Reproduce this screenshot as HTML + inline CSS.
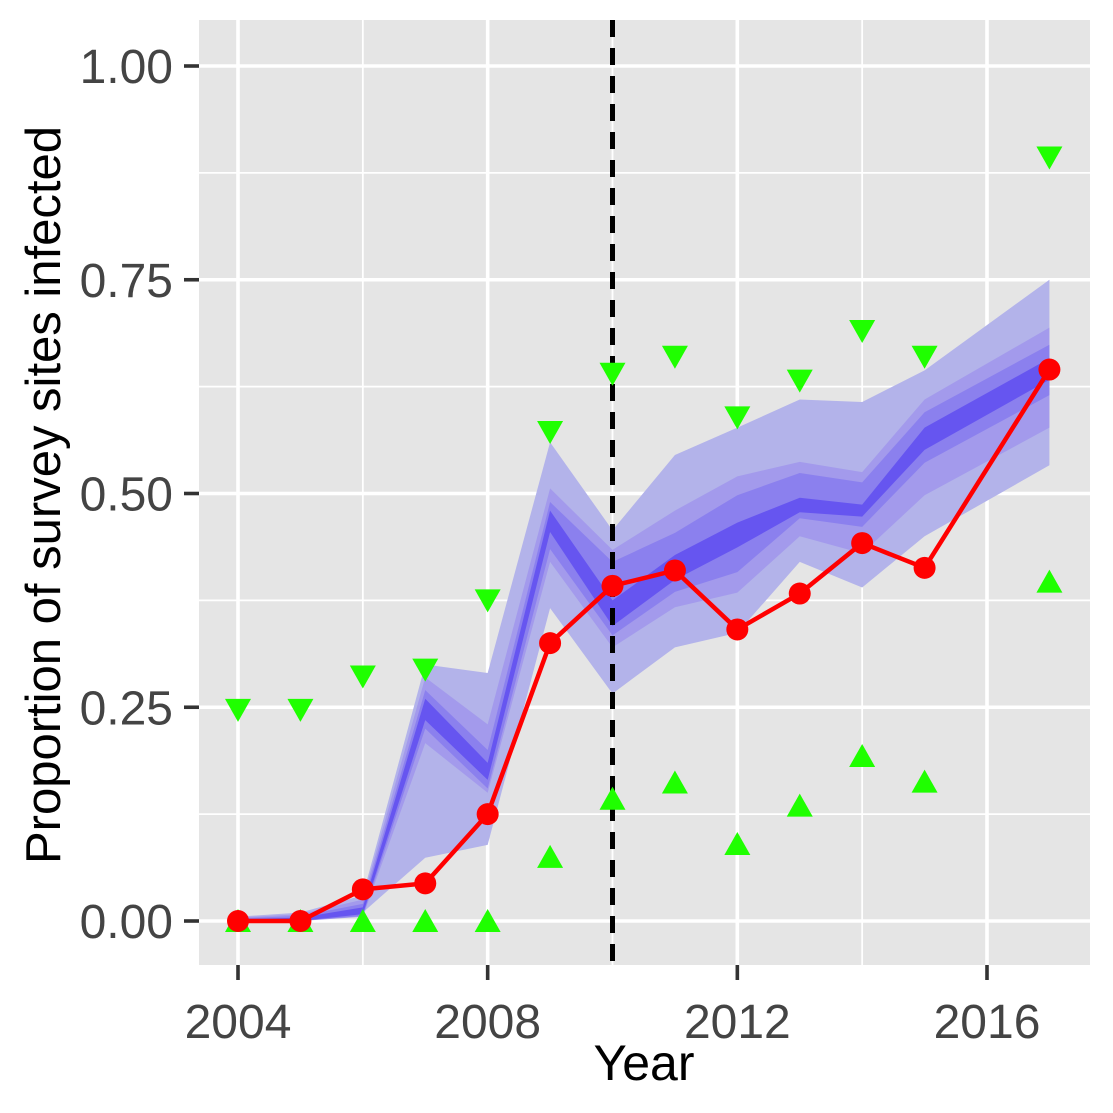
<!DOCTYPE html>
<html><head><meta charset="utf-8"><style>
body{margin:0;background:#fff}
svg{display:block;font-family:"Liberation Sans",Arial,sans-serif}
</style></head><body>
<svg id="chart" width="1113" height="1113">
<rect x="199" y="20" width="891" height="945" fill="#e5e5e5"/>
<g id="grid"></g><g id="bands"></g><g id="marks"></g><g id="axes"></g>
<text x="644" y="1080" font-size="50" text-anchor="middle" fill="#000">Year</text>
<text transform="translate(60,495) rotate(-90)" font-size="49" text-anchor="middle" fill="#000">Proportion of survey sites infected</text>
</svg>
<script>
const years=[2004,2005,2006,2007,2008,2009,2010,2011,2012,2013,2014,2015,2017];
const outerLo=[0,0,0.01,0.074,0.089,0.366,0.266,0.32,0.337,0.42,0.39,0.45,0.533];
const outerHi=[0.005,0.01,0.03,0.30,0.29,0.56,0.457,0.545,0.577,0.61,0.607,0.644,0.75];
const b2Lo=[0,0,0.005,0.208,0.15,0.42,0.32,0.367,0.384,0.45,0.43,0.498,0.577];
const b2Hi=[0.004,0.008,0.025,0.285,0.23,0.506,0.434,0.48,0.52,0.537,0.525,0.61,0.694];
const b3Lo=[0,0,0.006,0.225,0.155,0.435,0.334,0.385,0.408,0.471,0.461,0.536,0.615];
const b3Hi=[0.003,0.006,0.02,0.27,0.2,0.49,0.42,0.454,0.498,0.524,0.513,0.595,0.674];
const b4Lo=[0,0,0.008,0.235,0.165,0.455,0.345,0.399,0.437,0.478,0.473,0.551,0.633];
const b4Hi=[0.002,0.004,0.016,0.26,0.185,0.48,0.375,0.428,0.466,0.495,0.487,0.577,0.658];
const observed=[0,0,0.037,0.044,0.125,0.325,0.392,0.41,0.341,0.383,0.442,0.413,0.645];
const lowerCI=[0,0,0,0,0,0.075,0.143,0.162,0.09,0.135,0.193,0.163,0.397];
const upperCI=[0.247,0.247,0.286,0.294,0.375,0.572,0.64,0.66,0.589,0.632,0.69,0.66,0.893];
const xTicks=[2004,2008,2012,2016];
const xMinor=[2006,2010,2014];
const yTicks=[0,0.25,0.5,0.75,1];
const yTickLabels=["0.00","0.25","0.50","0.75","1.00"];
const yMinor=[0.125,0.375,0.625,0.875];
const cutYear=2010;

const X=v=>238+(v-2004)*(987-238)/12;
const Y=v=>921-v*855;
const NS="http://www.w3.org/2000/svg";
function mk(tag,attrs,parent){const e=document.createElementNS(NS,tag);for(const k in attrs)e.setAttribute(k,attrs[k]);parent.appendChild(e);return e;}
const grid=document.getElementById('grid'),bands=document.getElementById('bands'),marks=document.getElementById('marks'),axes=document.getElementById('axes');

yMinor.forEach(v=>{const l=mk('line',{x1:199,x2:1090,y1:Y(v),y2:Y(v),stroke:'#fff','stroke-width':1.8},grid);

});
xMinor.forEach(v=>{const l=mk('line',{x1:X(v),x2:X(v),y1:20,y2:965,stroke:'#fff','stroke-width':1.8},grid);

});
yTicks.forEach((v,i)=>{const l=mk('line',{x1:199,x2:1090,y1:Y(v),y2:Y(v),stroke:'#fff','stroke-width':3.6},grid);


const t=mk('line',{x1:184,x2:199,y1:Y(v),y2:Y(v),stroke:'#333','stroke-width':3.6},axes);


const tx=mk('text',{x:173,y:Y(v)+17,'font-size':48,'text-anchor':'end',fill:'#444'},axes);tx.textContent=yTickLabels[i];

});
xTicks.forEach(v=>{const l=mk('line',{x1:X(v),x2:X(v),y1:20,y2:965,stroke:'#fff','stroke-width':3.6},grid);


const t=mk('line',{x1:X(v),x2:X(v),y1:965,y2:980,stroke:'#333','stroke-width':3.6},axes);


const tx=mk('text',{x:X(v),y:1038,'font-size':48,'text-anchor':'middle',fill:'#444'},axes);tx.textContent=v;

});

function band(lo,hi,color,name){
 let d='M'+years.map((y,i)=>X(y)+','+Y(hi[i])).join('L');
 d+='L'+years.map((y,i)=>[X(y),Y(lo[i])]).reverse().map(p=>p.join(',')).join('L')+'Z';
 const p=mk('path',{d:d,fill:color},bands);
 
 
}
band(outerLo,outerHi,'#b3b3ea','band-outer');
band(b2Lo,b2Hi,'#a39aec','band-2');
band(b3Lo,b3Hi,'#8b80ee','band-3');
band(b4Lo,b4Hi,'#6655f0','band-inner');

const vl=mk('line',{x1:X(cutYear),x2:X(cutYear),y1:20,y2:965,stroke:'#000','stroke-width':5,'stroke-dasharray':'17,11'},marks);



years.forEach((y,i)=>{const cx=X(y);
 let cy=Y(upperCI[i]);
 const d=mk('polygon',{points:`${cx-13},${cy-11} ${cx+13},${cy-11} ${cx},${cy+12}`,fill:'#1fff00'},marks);
 
 
 cy=Y(lowerCI[i]);
 const u=mk('polygon',{points:`${cx-13},${cy+11} ${cx+13},${cy+11} ${cx},${cy-12}`,fill:'#1fff00'},marks);
 
 
});
const pl=mk('polyline',{points:years.map((y,i)=>X(y)+','+Y(observed[i])).join(' '),fill:'none',stroke:'#ff0000','stroke-width':4.5},marks);


years.forEach((y,i)=>{const c=mk('circle',{cx:X(y),cy:Y(observed[i]),r:11,fill:'#ff0000'},marks);
 
 });
</script>
</body></html>
